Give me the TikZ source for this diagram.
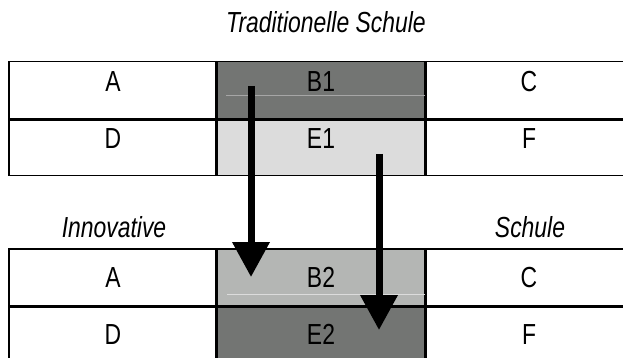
\documentclass[tikz,border=0pt]{standalone}
\usepackage{fontspec}
\setmainfont{Liberation Sans}[FakeStretch=0.79]
\usepackage{tikz}
\usetikzlibrary{positioning, arrows.meta, calc}

\definecolor{darkcell}{HTML}{737573}
\definecolor{lightcell}{HTML}{DCDCDC}
\definecolor{midcell}{HTML}{B4B6B4}

\begin{document}
\begin{tikzpicture}[x=1pt, y=-1pt,
    cell/.style={rectangle, draw, line width=1.2pt, minimum width=208pt, minimum height=57pt,
      inner sep=0pt, font=\fontsize{29}{33}\selectfont},
    uprow/.style={text height=3pt, text depth=0pt},
    caption/.style={font=\fontsize{29}{33}\selectfont\itshape},
    bigarrow/.style={line width=7pt, -{Triangle[length=35pt, width=36pt]}},
    faint/.style={line width=0.6pt}]
    \useasboundingbox (0,0) rectangle (623,358);

    % traditionelle Schule
    \node[caption] (trad) at (326,22) {Traditionelle Schule};
    \node[cell, uprow] (a1) at (113,90) {A};
    \node[cell, uprow, fill=darkcell] (b1) at (321,90) {B1};
    \node[cell, uprow] (c1) at (529,90) {C};
    \node[cell, uprow] (d1) at (113,147) {D};
    \node[cell, uprow, fill=lightcell] (e1) at (321,147) {E1};
    \node[cell, uprow] (f1) at (529,147) {F};
    \draw[faint, draw=gray!70] (226,95) -- (b1.east |- 0,95);
    \draw[line width=3pt] (a1.south west) -- (c1.south east);
    \draw[line width=2pt] (b1.north west) -- (e1.south west);
    \draw[line width=2pt] (b1.north east) -- (e1.south east);

    % innovative Schule
    \node[caption] (inno) at (114,227) {Innovative};
    \node[caption] (schule) at (530,227) {Schule};
    \node[cell] (a2) at (113,277.5) {A};
    \node[cell, fill=midcell] (b2) at (321,277.5) {B2};
    \node[cell] (c2) at (529,277.5) {C};
    \node[cell] (d2) at (113,334.5) {D};
    \node[cell, fill=darkcell] (e2) at (321,334.5) {E2};
    \node[cell] (f2) at (529,334.5) {F};
    \draw[faint, draw=lightcell] (227,294) -- (b2.east |- 0,294);
    \draw[line width=3pt] (a2.south west) -- (c2.south east);
    \draw[line width=2pt] (b2.north west) -- (e2.south west);
    \draw[line width=2pt] (b2.north east) -- (e2.south east);

    % arrows
    \coordinate (from1) at (251,86);
    \coordinate (to1) at (251,277);
    \coordinate (from2) at (379,154);
    \coordinate (to2) at (379,330);
    \draw[bigarrow] (from1) -- (to1);
    \draw[bigarrow] (from2) -- (to2);
\end{tikzpicture}
\end{document}
